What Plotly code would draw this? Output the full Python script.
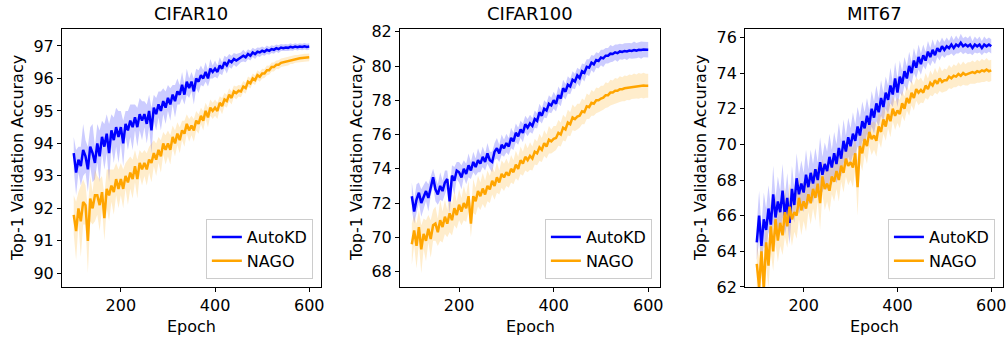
import plotly.graph_objects as go

epochs = list(range(100, 601, 5))

# ---------------- CIFAR10 ----------------
c10_auto = [
    93.7, 93.1, 93.5, 93.3, 93.8, 93.6, 93.2, 93.9, 93.7, 93.4,
    94.0, 93.6, 94.2, 93.9, 94.3, 93.7, 94.4, 94.1, 94.5, 94.2,
    94.5, 94.0, 94.6, 94.4, 94.7, 94.5, 94.8, 94.5, 94.9, 94.7,
    94.9, 94.6, 95.0, 94.4, 95.1, 94.9, 95.2, 95.0, 95.3, 95.1,
    95.4, 95.2, 95.5, 95.3, 95.6, 95.5, 95.8, 95.5, 95.9, 95.7,
    95.9, 95.6, 96.0, 95.9, 96.1, 96.0, 96.2, 96.0, 96.3, 96.2,
    96.3, 96.2, 96.4, 96.3, 96.5, 96.4, 96.55, 96.5, 96.6, 96.55,
    96.6, 96.65, 96.7, 96.65, 96.75, 96.7, 96.8, 96.75, 96.82, 96.8,
    96.85, 96.82, 96.88, 96.85, 96.9, 96.88, 96.93, 96.9, 96.95, 96.93,
    96.95, 96.94, 96.97, 96.95, 96.98, 96.96, 96.98, 96.97, 96.99, 96.97,
    96.98]
c10_auto_sd = [
    0.5, 0.7, 0.4, 0.6, 0.8, 0.5, 0.7, 0.6, 0.9, 0.5,
    0.6, 0.8, 0.5, 0.7, 0.6, 0.9, 0.5, 0.7, 0.6, 0.8,
    0.5, 0.7, 0.4, 0.6, 0.5, 0.7, 0.4, 0.6, 0.5, 0.6,
    0.4, 0.6, 0.5, 0.7, 0.4, 0.5, 0.4, 0.6, 0.4, 0.5,
    0.4, 0.5, 0.3, 0.5, 0.4, 0.3, 0.4, 0.3, 0.4, 0.3,
    0.3, 0.4, 0.3, 0.35, 0.3, 0.25, 0.3, 0.25, 0.3, 0.2,
    0.25, 0.2, 0.25, 0.2, 0.2, 0.25, 0.2, 0.2, 0.18, 0.2,
    0.18, 0.15, 0.18, 0.15, 0.15, 0.15, 0.14, 0.15, 0.13, 0.14,
    0.13, 0.12, 0.13, 0.12, 0.12, 0.12, 0.11, 0.12, 0.11, 0.11,
    0.11, 0.1, 0.11, 0.1, 0.1, 0.1, 0.1, 0.1, 0.1, 0.1,
    0.1]
c10_nago = [
    91.8, 91.3, 92.0, 91.6, 92.2, 92.1, 91.0, 92.3, 92.0, 92.4,
    92.4, 92.1, 92.5, 91.7, 92.6, 92.4, 92.7, 92.5, 92.9, 92.6,
    92.9, 92.6, 93.0, 92.8, 93.1, 92.9, 93.3, 92.9, 93.4, 93.2,
    93.4, 93.2, 93.5, 93.4, 93.7, 93.5, 93.8, 93.6, 94.0, 93.8,
    94.0, 93.8, 94.2, 94.0, 94.3, 94.1, 94.4, 94.3, 94.6, 94.4,
    94.55, 94.4, 94.7, 94.6, 94.85, 94.7, 95.0, 94.8, 95.1, 95.0,
    95.1, 95.0, 95.25, 95.15, 95.35, 95.3, 95.5, 95.4, 95.6, 95.55,
    95.62, 95.6, 95.75, 95.7, 95.9, 95.85, 96.0, 95.95, 96.1, 96.05,
    96.15, 96.15, 96.25, 96.25, 96.35, 96.35, 96.42, 96.42, 96.48, 96.5,
    96.52, 96.53, 96.56, 96.57, 96.6, 96.6, 96.62, 96.63, 96.64, 96.64,
    96.65]
c10_nago_sd = [
    0.6, 0.9, 0.5, 1.1, 0.7, 0.6, 1.0, 0.7, 0.5, 0.8,
    0.6, 0.8, 0.5, 0.7, 0.6, 0.8, 0.5, 0.7, 0.5, 0.6,
    0.5, 0.6, 0.4, 0.7, 0.5, 0.6, 0.5, 0.6, 0.4, 0.5,
    0.4, 0.5, 0.4, 0.6, 0.4, 0.5, 0.4, 0.5, 0.35, 0.45,
    0.4, 0.45, 0.35, 0.4, 0.35, 0.4, 0.3, 0.4, 0.3, 0.35,
    0.3, 0.35, 0.3, 0.3, 0.25, 0.3, 0.25, 0.3, 0.25, 0.25,
    0.25, 0.25, 0.2, 0.25, 0.2, 0.2, 0.2, 0.2, 0.18, 0.2,
    0.18, 0.18, 0.17, 0.17, 0.16, 0.16, 0.15, 0.15, 0.15, 0.15,
    0.15, 0.14, 0.15, 0.14, 0.14, 0.14, 0.13, 0.14, 0.13, 0.13,
    0.13, 0.13, 0.12, 0.13, 0.12, 0.12, 0.12, 0.12, 0.12, 0.12,
    0.12]

# ---------------- CIFAR100 ----------------
c100_auto = [
    72.4, 71.5, 72.2, 72.6, 72.0, 72.4, 72.7, 72.3, 73.0, 73.5,
    72.8, 72.5, 73.0, 72.7, 73.2, 73.4, 72.1, 73.6, 73.3, 73.9,
    73.8, 73.5, 74.0, 73.7, 74.2, 73.9, 74.4, 74.1, 74.5, 74.3,
    74.7, 74.4, 74.9, 74.5, 74.4, 75.0, 75.2, 74.9, 75.4, 75.2,
    75.5, 75.3, 75.8, 75.6, 76.1, 75.9, 76.3, 76.1, 76.6, 76.4,
    76.65, 76.5, 76.9, 76.8, 77.3, 77.1, 77.5, 77.4, 77.8, 77.7,
    78.0, 77.8, 78.3, 78.1, 78.7, 78.5, 78.9, 78.8, 79.2, 79.1,
    79.45, 79.3, 79.7, 79.6, 79.95, 79.9, 80.2, 80.1, 80.35, 80.3,
    80.5, 80.45, 80.6, 80.6, 80.72, 80.7, 80.8, 80.75, 80.85, 80.82,
    80.88, 80.85, 80.9, 80.88, 80.93, 80.9, 80.95, 80.93, 80.96, 80.94,
    80.95]
c100_auto_sd = [
    0.8, 0.7, 0.9, 0.6, 0.8, 0.7, 0.6, 0.8, 0.6, 0.5,
    0.7, 0.6, 0.8, 0.6, 0.7, 0.5, 0.7, 0.6, 0.8, 0.5,
    0.6, 0.7, 0.5, 0.6, 0.7, 0.5, 0.6, 0.5, 0.7, 0.5,
    0.6, 0.5, 0.6, 0.5, 0.6, 0.5, 0.6, 0.5, 0.6, 0.5,
    0.55, 0.5, 0.6, 0.5, 0.55, 0.5, 0.5, 0.55, 0.5, 0.5,
    0.5, 0.45, 0.5, 0.45, 0.5, 0.45, 0.5, 0.45, 0.5, 0.45,
    0.5, 0.45, 0.5, 0.45, 0.5, 0.45, 0.5, 0.45, 0.5, 0.45,
    0.45, 0.5, 0.45, 0.5, 0.45, 0.5, 0.45, 0.5, 0.45, 0.45,
    0.45, 0.5, 0.45, 0.45, 0.5, 0.45, 0.45, 0.5, 0.45, 0.45,
    0.45, 0.5, 0.45, 0.45, 0.5, 0.45, 0.45, 0.5, 0.45, 0.45,
    0.45]
c100_nago = [
    69.6, 70.4, 69.5, 70.6, 69.3, 70.2, 69.8, 70.5, 69.9, 70.7,
    70.8, 70.3, 71.0, 70.6, 71.2, 70.8, 71.4, 71.0, 71.7, 71.3,
    71.9, 71.5, 72.0, 71.7, 72.4, 70.8, 72.4, 72.1, 72.7, 72.4,
    72.85, 72.5, 73.0, 72.8, 73.3, 73.0, 73.5, 73.2, 73.7, 73.5,
    73.8, 73.6, 74.0, 73.8, 74.25, 74.0, 74.5, 74.3, 74.7, 74.5,
    74.75, 74.6, 75.0, 74.9, 75.25, 75.1, 75.5, 75.3, 75.7, 75.6,
    75.75, 75.8, 76.1, 76.0, 76.4, 76.3, 76.7, 76.6, 77.0, 76.9,
    77.05, 77.1, 77.35, 77.3, 77.65, 77.6, 77.85, 77.8, 78.0, 78.0,
    78.1, 78.15, 78.3, 78.3, 78.45, 78.45, 78.55, 78.55, 78.65, 78.65,
    78.7, 78.72, 78.75, 78.78, 78.82, 78.8, 78.84, 78.85, 78.86, 78.85,
    78.85]
c100_nago_sd = [
    1.2, 0.9, 1.3, 1.0, 1.4, 0.9, 1.2, 0.8, 1.1, 0.9,
    1.0, 0.8, 1.2, 0.9, 1.0, 0.8, 1.1, 0.9, 1.0, 0.8,
    0.9, 0.8, 1.0, 0.8, 0.9, 0.8, 1.0, 0.8, 0.9, 0.8,
    0.9, 0.8, 0.9, 0.8, 0.8, 0.8, 0.9, 0.7, 0.8, 0.8,
    0.8, 0.7, 0.8, 0.7, 0.8, 0.7, 0.8, 0.7, 0.8, 0.7,
    0.8, 0.7, 0.75, 0.7, 0.8, 0.7, 0.75, 0.7, 0.8, 0.7,
    0.75, 0.7, 0.75, 0.7, 0.75, 0.7, 0.75, 0.7, 0.75, 0.7,
    0.75, 0.7, 0.75, 0.7, 0.75, 0.7, 0.75, 0.7, 0.75, 0.7,
    0.75, 0.7, 0.75, 0.7, 0.75, 0.7, 0.75, 0.7, 0.75, 0.7,
    0.75, 0.7, 0.75, 0.7, 0.75, 0.7, 0.75, 0.7, 0.75, 0.7,
    0.7]

# ---------------- MIT67 ----------------
m67_auto = [
    64.5, 66.0, 64.3, 65.8, 65.2, 66.4, 65.5, 67.2, 65.9, 66.8,
    66.2, 67.4, 66.0, 67.0, 65.6, 67.5, 66.6, 68.1, 67.2, 67.8,
    67.3, 68.3, 67.6, 68.4, 67.8, 68.6, 68.0, 69.0, 68.3, 68.9,
    68.5, 69.3, 68.7, 69.5, 68.9, 69.8, 69.2, 70.2, 69.6, 70.4,
    69.9, 70.6, 70.2, 71.0, 70.5, 71.3, 70.9, 71.6, 71.1, 72.0,
    71.5, 72.3, 71.8, 72.6, 72.1, 72.9, 72.5, 73.3, 72.8, 73.7,
    72.9, 73.8, 73.4, 74.1, 73.7, 74.4, 74.0, 74.7, 74.3, 74.9,
    74.5, 75.0, 74.7, 75.2, 74.9, 75.3, 75.0, 75.4, 75.2, 75.5,
    75.3, 75.5, 75.4, 75.6, 75.4, 75.6, 75.5, 75.7, 75.5, 75.6,
    75.5, 75.6, 75.4, 75.6, 75.5, 75.6, 75.4, 75.6, 75.5, 75.6,
    75.5]
m67_auto_sd = [
    1.0, 1.4, 1.1, 1.5, 1.2, 1.3, 1.0, 1.6, 1.1, 1.4,
    1.2, 1.5, 1.1, 1.4, 1.2, 1.3, 1.0, 1.4, 1.1, 1.3,
    1.1, 1.4, 1.0, 1.3, 1.1, 1.2, 1.0, 1.4, 1.0, 1.2,
    1.1, 1.3, 1.0, 1.2, 1.1, 1.4, 1.0, 1.2, 0.9, 1.1,
    1.0, 1.2, 0.9, 1.1, 1.0, 1.1, 0.9, 1.0, 0.8, 1.0,
    0.9, 1.0, 0.8, 1.0, 0.8, 0.9, 0.8, 1.0, 0.7, 0.9,
    0.8, 0.9, 0.7, 0.8, 0.7, 0.8, 0.6, 0.7, 0.6, 0.7,
    0.6, 0.6, 0.5, 0.6, 0.5, 0.6, 0.5, 0.5, 0.5, 0.5,
    0.45, 0.5, 0.4, 0.5, 0.45, 0.5, 0.4, 0.5, 0.45, 0.45,
    0.45, 0.5, 0.4, 0.45, 0.4, 0.45, 0.4, 0.45, 0.4, 0.4,
    0.4]
m67_nago = [
    63.3, 62.0, 64.0, 61.9, 64.5, 63.2, 65.4, 64.0, 65.8, 64.6,
    65.6, 64.9, 66.2, 65.4, 66.5, 65.8, 66.2, 66.0, 67.0, 66.3,
    66.8, 66.4, 67.2, 66.7, 67.5, 67.0, 67.8, 66.7, 68.2, 67.5,
    67.8, 67.4, 68.2, 67.9, 68.5, 68.0, 68.8, 68.4, 69.2, 68.8,
    69.0, 68.7, 69.5, 67.6, 69.9, 69.5, 70.3, 69.9, 70.7, 70.3,
    70.5, 70.2, 71.0, 70.7, 71.4, 71.0, 71.7, 71.3, 72.0, 71.6,
    71.9, 71.7, 72.3, 72.0, 72.6, 72.3, 72.9, 72.6, 73.1, 72.9,
    73.05, 72.9, 73.3, 73.1, 73.45, 73.3, 73.6, 73.4, 73.7, 73.5,
    73.6, 73.6, 73.8, 73.7, 73.85, 73.8, 73.95, 73.85, 74.0, 73.9,
    73.95, 74.0, 74.05, 74.0, 74.1, 74.05, 74.15, 74.1, 74.2, 74.1,
    74.15]
m67_nago_sd = [
    1.3, 1.6, 1.2, 1.5, 1.4, 1.2, 1.5, 1.1, 1.4, 1.2,
    1.3, 1.1, 1.4, 1.2, 1.3, 1.5, 1.1, 1.3, 1.2, 1.4,
    1.1, 1.3, 1.0, 1.2, 1.1, 1.3, 1.0, 1.5, 1.0, 1.2,
    1.0, 1.2, 1.0, 1.1, 1.0, 1.2, 0.9, 1.1, 1.0, 1.1,
    1.0, 1.1, 0.9, 1.6, 0.9, 1.0, 0.9, 1.0, 0.8, 0.9,
    0.8, 0.9, 0.8, 0.9, 0.8, 0.8, 0.8, 0.9, 0.7, 0.8,
    0.7, 0.8, 0.7, 0.7, 0.7, 0.7, 0.7, 0.7, 0.65, 0.7,
    0.7, 0.6, 0.7, 0.6, 0.7, 0.6, 0.7, 0.6, 0.7, 0.6,
    0.65, 0.6, 0.65, 0.6, 0.65, 0.6, 0.65, 0.6, 0.65, 0.6,
    0.65, 0.6, 0.65, 0.6, 0.65, 0.6, 0.65, 0.6, 0.65, 0.6,
    0.6]

titles = ["CIFAR10", "CIFAR100", "MIT67"]
series_names = ["AutoKD", "NAGO"]
line_colors = ["#0000ff", "#ffa500"]
band_colors = ["rgba(0,0,255,0.2)", "rgba(255,165,0,0.2)"]
y_ranges = [[89.58, 97.52], [67.1, 82.16], [62.0, 76.47]]
y_dticks = [1, 2, 2]
x_domains = [[0.0616, 0.3191], [0.3976, 0.6561], [0.7406, 0.9970]]
y_domain = [0.1484, 0.9139]
ytitle_x = [17, 356, 700]
legend_right = [0.311, 0.648, 0.989]

panels = [
    [(c10_auto, c10_auto_sd), (c10_nago, c10_nago_sd)],
    [(c100_auto, c100_auto_sd), (c100_nago, c100_nago_sd)],
    [(m67_auto, m67_auto_sd), (m67_nago, m67_nago_sd)],
]

FONT = "DejaVu Sans"
fig = go.Figure()
annotations = []
layout = {}

for p, series in enumerate(panels):
    xa = "x" if p == 0 else f"x{p+1}"
    ya = "y" if p == 0 else f"y{p+1}"
    leg = "legend" if p == 0 else f"legend{p+1}"
    for s, (mean, sd) in enumerate(series):
        upper = [m + d for m, d in zip(mean, sd)]
        lower = [m - d for m, d in zip(mean, sd)]
        fig.add_trace(go.Scatter(
            x=epochs + epochs[::-1], y=upper + lower[::-1],
            fill="toself", fillcolor=band_colors[s], line=dict(width=0),
            mode="lines", showlegend=False, hoverinfo="skip",
            xaxis=xa, yaxis=ya))
    for s, (mean, sd) in enumerate(series):
        fig.add_trace(go.Scatter(
            x=epochs, y=mean, mode="lines", name=series_names[s],
            line=dict(color=line_colors[s], width=2.5),
            xaxis=xa, yaxis=ya, legend=leg, showlegend=True))

    xkey = "xaxis" if p == 0 else f"xaxis{p+1}"
    ykey = "yaxis" if p == 0 else f"yaxis{p+1}"
    layout[xkey] = dict(
        domain=x_domains[p], range=[75, 625], anchor=ya,
        tickmode="array", tickvals=[200, 400, 600],
        ticks="outside", ticklen=4, tickcolor="black",
        showline=True, linecolor="black", linewidth=1, mirror=True,
        showgrid=False, zeroline=False, ticklabeloverflow="allow",
        tickfont=dict(family=FONT, size=16, color="black"),
        automargin=False)
    layout[ykey] = dict(
        domain=y_domain, range=y_ranges[p], anchor=xa,
        dtick=y_dticks[p], tick0=0,
        ticks="outside", ticklen=4, tickcolor="black",
        showline=True, linecolor="black", linewidth=1, mirror=True,
        showgrid=False, zeroline=False, ticklabeloverflow="allow",
        tickfont=dict(family=FONT, size=16, color="black"),
        automargin=False)
    layout[leg] = dict(
        x=legend_right[p], xanchor="right", xref="paper",
        y=0.172, yanchor="bottom", yref="paper",
        bgcolor="rgba(255,255,255,0.8)", bordercolor="#cccccc", borderwidth=1,
        font=dict(family=FONT, size=16, color="black"),
        itemwidth=30, tracegroupgap=0)
    cx = (x_domains[p][0] + x_domains[p][1]) / 2
    annotations.append(dict(
        text=titles[p], x=cx, y=1 - 14 / 337, xref="paper", yref="paper",
        xanchor="center", yanchor="middle", showarrow=False,
        font=dict(family=FONT, size=18, color="black")))
    annotations.append(dict(
        text="Epoch", x=cx, y=1 - 326 / 337, xref="paper", yref="paper",
        xanchor="center", yanchor="middle", showarrow=False,
        font=dict(family=FONT, size=16, color="black")))
    annotations.append(dict(
        text="Top-1 Validation Accuracy", x=ytitle_x[p] / 1006,
        y=(y_domain[0] + y_domain[1]) / 2, xref="paper", yref="paper",
        xanchor="center", yanchor="middle", textangle=-90, showarrow=False,
        font=dict(family=FONT, size=16, color="black")))

fig.update_layout(
    width=1006, height=337,
    margin=dict(l=0, r=0, t=0, b=0),
    paper_bgcolor="white", plot_bgcolor="white",
    annotations=annotations,
    font=dict(family=FONT, size=16, color="black"),
    **layout)

fig.write_html(
    "out.html",
    config={"displayModeBar": False},
    post_script="document.body.style.margin='0';document.body.style.overflow='hidden';")
